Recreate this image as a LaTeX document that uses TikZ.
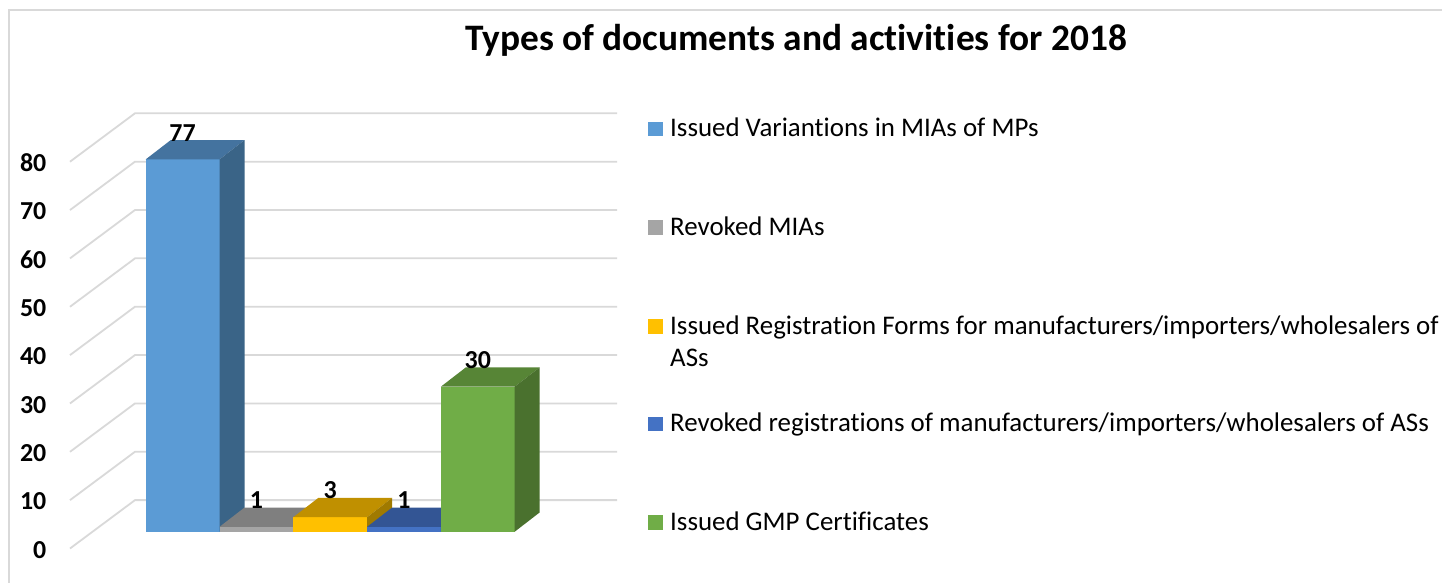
\documentclass[tikz,border=0pt]{standalone}
\usepackage{fontspec}
\setmainfont{Carlito}[Ligatures=NoCommon]
\definecolor{gridc}{HTML}{D9D9D9}
\definecolor{framec}{HTML}{D9D9D9}
\definecolor{blueF}{HTML}{5B9BD5}\definecolor{blueT}{HTML}{44739F}\definecolor{blueS}{HTML}{3A6487}
\definecolor{grayF}{HTML}{A5A5A5}\definecolor{grayT}{HTML}{7F7F7F}\definecolor{grayS}{HTML}{6B6B6B}
\definecolor{yelF}{HTML}{FFC000}\definecolor{yelT}{HTML}{C09000}\definecolor{yelS}{HTML}{A07A00}
\definecolor{dblF}{HTML}{4472C4}\definecolor{dblT}{HTML}{335594}\definecolor{dblS}{HTML}{2B4880}
\definecolor{grnF}{HTML}{70AD47}\definecolor{grnT}{HTML}{578536}\definecolor{grnS}{HTML}{4A712E}
\tikzset{
  gridline/.style={draw=gridc, line width=1.8},
  axlabel/.style={font=\fontsize{26}{31}\selectfont\bfseries, anchor=base east, inner sep=0pt},
  barlabel/.style={font=\fontsize{26}{31}\selectfont\bfseries, anchor=base, inner sep=0pt},
  legtext/.style={font=\fontsize{27}{32}\selectfont, anchor=base west, inner sep=0pt, align=left},
  legsq/.style={minimum size=14.5, inner sep=0pt, draw=none},
  titletext/.style={font=\fontsize{37.5}{45}\selectfont\bfseries, inner sep=0pt, anchor=base}
}
\newcommand{\chartbar}[6]{%
  \pgfmathsetmacro{\xl}{#1}%
  \pgfmathsetmacro{\xr}{#1+73.8}%
  \pgfmathsetmacro{\yt}{531.7-#2*4.835}%
  \fill[#3] (\xl,531.7) rectangle (\xr,\yt);
  \fill[#4] (\xl,\yt) -- (\xr,\yt) -- ++(25,-19.3) -- ({\xl+25},{\yt-19.3}) -- cycle;
  \fill[#5] (\xr,531.7) -- (\xr,\yt) -- ++(25,-19.3) -- ({\xr+25},{531.7-19.3}) -- cycle;
  \node[barlabel] (#6) at ({\xl+36.9},{\yt-19.3+1}) {#2};
}
\begin{document}
\begin{tikzpicture}[x=1bp,y=-1bp]
\useasboundingbox (0,0) rectangle (1442,583);
\fill[white] (0,0) rectangle (1442,583);
% frame
\draw[draw=framec, line width=1.5] (9,583) -- (9,10) -- (1442,10);
% title
\node[titletext] (title) at (796,50.5) {Types of documents and activities for 2018};
% grid: back lines and side diagonals
\foreach \v in {0,10,...,80}{
  \pgfmathsetmacro{\yb}{113.3+(80-\v)*4.835}
  \draw[gridline] (70,\yb+48.4) -- (135,\yb) -- (617,\yb);
  \node[axlabel] (ax\v) at (46.5,\yb+48.4+9.8) {\v};
}
% bars
\chartbar{145.7}{77}{blueF}{blueT}{blueS}{lab1}
\chartbar{219.5}{1}{grayF}{grayT}{grayS}{lab2}
\chartbar{293.3}{3}{yelF}{yelT}{yelS}{lab3}
\chartbar{367.1}{1}{dblF}{dblT}{dblS}{lab4}
\chartbar{440.9}{30}{grnF}{grnT}{grnS}{lab5}
% legend
\node[legsq, fill=blueF] (sq1) at (655.5,129.2) {};
\node[legsq, fill=grayF] (sq2) at (655.5,227.5) {};
\node[legsq, fill=yelF] (sq3) at (655.5,326.7) {};
\node[legsq, fill=dblF] (sq4) at (655.5,424.2) {};
\node[legsq, fill=grnF] (sq5) at (655.5,522.5) {};
\node[legtext] (lg1) at (670,136.7) {Issued Variantions in MIAs of MPs};
\node[legtext] (lg2) at (670,235) {Revoked MIAs};
\node[legtext] (lg3) at (670,366) {Issued Registration Forms for manufacturers/importers/wholesalers of\\ASs};
\node[legtext] (lg4) at (670,431.7) {Revoked registrations of manufacturers/importers/wholesalers of ASs};
\node[legtext] (lg5) at (670,530) {Issued GMP Certificates};
\end{tikzpicture}
\end{document}
